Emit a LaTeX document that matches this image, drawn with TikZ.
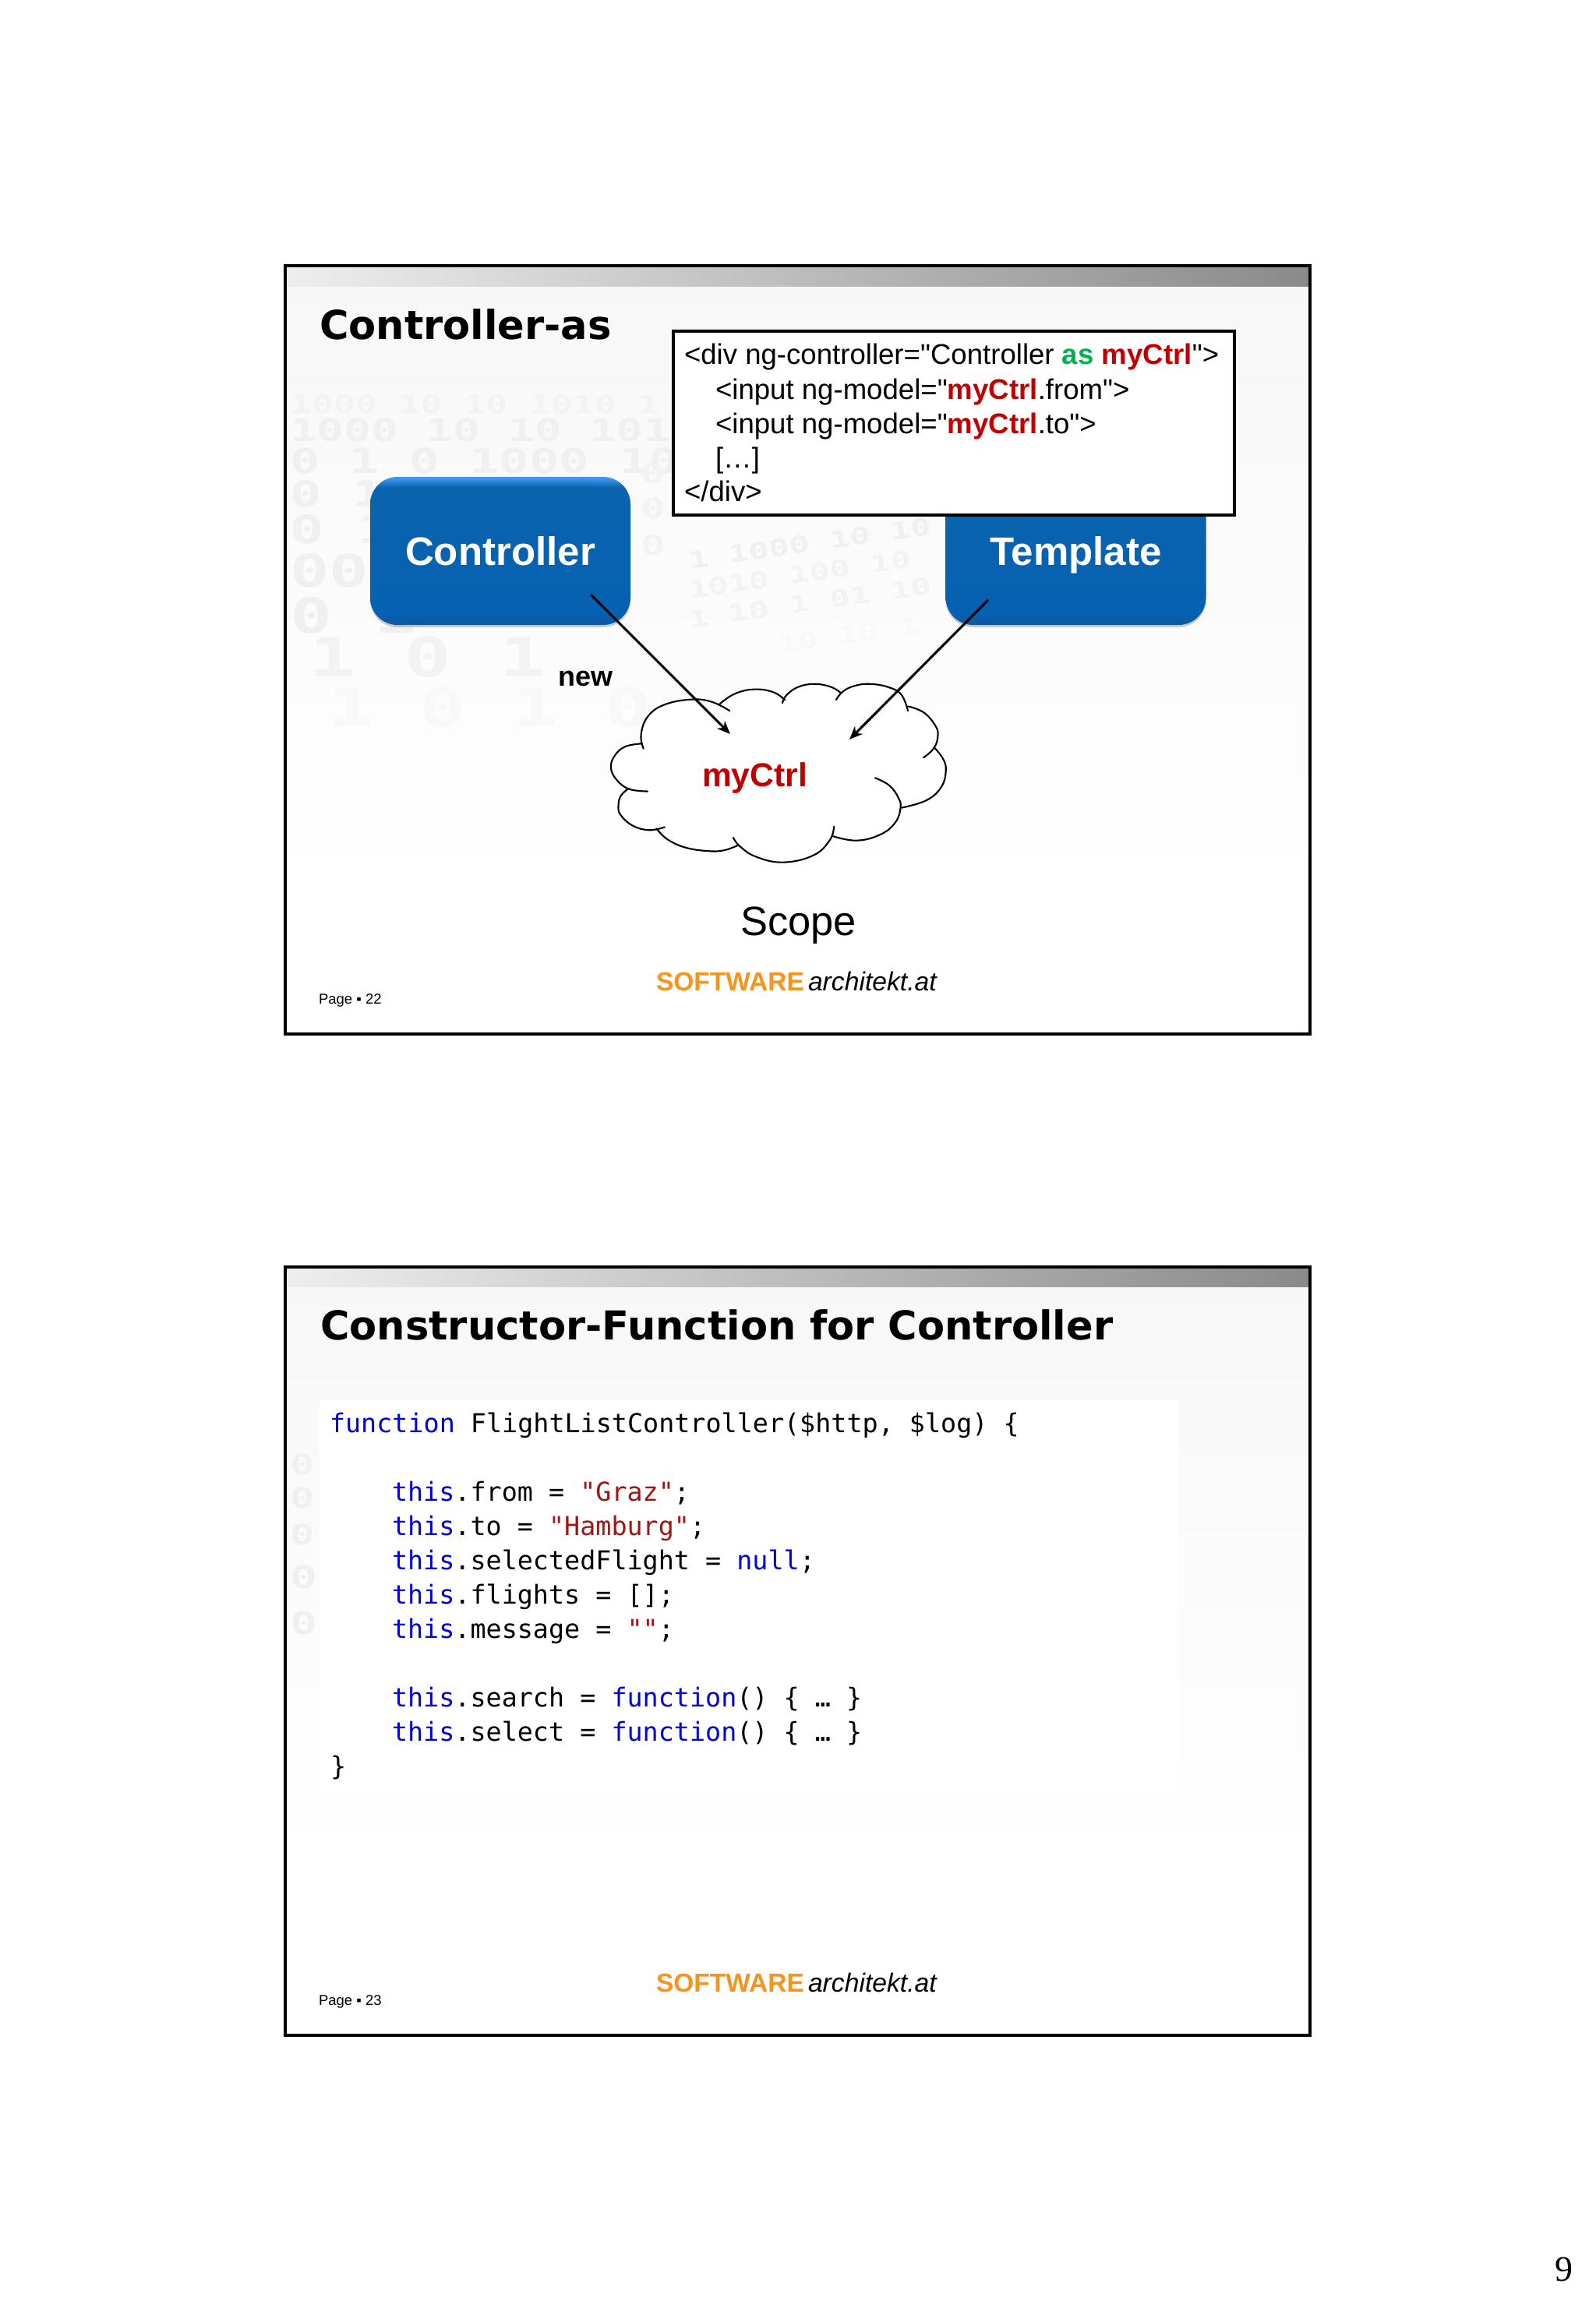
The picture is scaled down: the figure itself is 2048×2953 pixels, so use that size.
\documentclass[tikz,border=0pt]{standalone}
\usepackage{fontspec}
\setmainfont{Liberation Sans}[Ligatures=TeXOff]
\setmonofont{DejaVu Sans Mono}
\newfontfamily\titlefont{DejaVu Sans}
\newfontfamily\wmfont{DejaVu Sans Mono}
\newfontfamily\numfont{Liberation Serif}
\usetikzlibrary{arrows.meta,shadows}
\definecolor{bandL}{HTML}{EEEEEE}
\definecolor{bandR}{HTML}{8A8A8A}
\definecolor{bgTop}{HTML}{F7F7F8}
\definecolor{blueTop}{HTML}{3D98EC}
\definecolor{blueA}{HTML}{0B63AE}
\definecolor{blueB}{HTML}{0561B2}
\definecolor{blueEnd}{HTML}{0A5CA6}
\definecolor{kwGreen}{HTML}{00B050}
\definecolor{kwRed}{HTML}{C00000}
\definecolor{logoOrange}{HTML}{F7941E}
\definecolor{codeBlue}{HTML}{0000E0}
\definecolor{codeStr}{HTML}{A31515}
\definecolor{wmA}{HTML}{F0F0F1}
\definecolor{wmB}{HTML}{F3F3F4}
\definecolor{wmC}{HTML}{F8F8F8}
\pgfdeclareverticalshading{blueboxshade}{100bp}{color(0bp)=(blueEnd); color(26.5bp)=(blueEnd); color(29bp)=(blueB); color(66bp)=(blueA); color(71.5bp)=(blueA); color(74.5bp)=(blueTop); color(100bp)=(blueTop)}
\newcommand{\pxsize}[1]{\fontsize{#1}{#1}\selectfont}
\newcommand{\kwb}[1]{\textcolor{codeBlue}{#1}}
\newcommand{\kws}[1]{\textcolor{codeStr}{#1}}
\newcommand{\kred}[1]{\textcolor{kwRed}{\textbf{#1}}}
\tikzset{
  x=1pt,y=-1pt,
  label base/.style={inner sep=0pt,outer sep=0pt,anchor=base west},
  slidetitle/.style={label base,font=\titlefont\bfseries\pxsize{51.1}},
  boxline/.style={label base,font=\pxsize{36.6}},
  codeline/.style={label base,font=\ttfamily\pxsize{33.4}},
  pagelabel/.style={label base,font=\pxsize{18.5}},
  logoA/.style={label base,font=\bfseries\pxsize{33.5},text=logoOrange},
  logoB/.style={label base,font=\itshape\pxsize{33.7}},
  frameline/.style={draw=black,line width=3.5pt},
  bluebox/.style={rounded corners=35pt,minimum width=334pt,minimum height=190pt,inner sep=0pt,
    shading=blueboxshade,text=white,font=\bfseries,text height=37pt,text depth=0pt,
    drop shadow={shadow xshift=0pt,shadow yshift=-3pt,opacity=.2,fill=black}},
  arrowline/.style={draw=black,line width=3.1pt,-{Stealth[length=17pt,width=14pt]}},
  cloudline/.style={draw=black,line width=2.1pt,line cap=round},
  wm/.style={inner sep=0pt,outer sep=0pt,anchor=base west,font=\wmfont\bfseries},
}
% watermark: slide-relative rows of binary digits
\newcommand{\wmrow}[6]{\node[wm,text=#5,rotate=#4] (wm#6) at (#1) {\pxsize{#2}\scalebox{1.45}[1]{#3}};}
\newcommand{\cloudlobes}[1]{%
  \path[#1] plot[smooth,tension=.7] coordinates {(331,577)(323,530)(345,470)(400,430)(490,412)(560,420)(620,450)};
  \path[#1] plot[smooth,tension=.7] coordinates {(587,427)(635,394)(700,378)(765,387)(806,414)};
  \path[#1] plot[smooth,tension=.7] coordinates {(797,424)(810,398)(850,370)(905,360)(960,370)(993,390)};
  \path[#1] plot[smooth,tension=.7] coordinates {(977,413)(1000,385)(1040,366)(1090,360)(1150,370)(1195,395)(1218,450)};
  \path[#1] plot[smooth,tension=.7] coordinates {(1218,435)(1270,455)(1310,500)(1318,535)(1305,575)(1270,607)};
  \path[#1] plot[smooth,tension=.7] coordinates {(1305,572)(1335,610)(1345,650)(1330,705)(1280,750)(1197,775)};
  \path[#1] plot[smooth,tension=.7] coordinates {(1108,675)(1155,700)(1185,740)(1193,775)(1175,825)(1125,865)(1045,885)(965,870)};
  \path[#1] plot[smooth,tension=.7] coordinates {(970,838)(955,885)(900,935)(800,958)(710,940)(655,905)(632,875)};
  \path[#1] plot[smooth,tension=.7] coordinates {(650,900)(600,918)(545,920)(470,908)(410,880)(375,845)};
  \path[#1] plot[smooth,tension=.7] coordinates {(402,840)(350,850)(295,835)(255,800)(247,770)(255,735)(282,710)};
  \path[#1] plot[smooth,tension=.7] coordinates {(345,720)(282,712)(240,680)(222,640)(235,600)(270,570)(325,560)};
}
\begin{document}
\begin{tikzpicture}
\useasboundingbox (0,0) rectangle (2048,2953);
\fill[white] (0,0) rectangle (2048,2953);

% ---------- slide 1 ----------
\shade[top color=bgTop,bottom color=white] (366,341) rectangle (1681,1150);
\fill[white] (366,1150) rectangle (1681,1327);
\begin{scope}
  \clip (368,367) rectangle (1679,1100);
  \wmrow{372,530}{32}{1000 10 10 1010 1}{0}{wmB}{a}
  \wmrow{372,566}{40}{1000 10 10 101}{0}{wmA}{b}
  \wmrow{372,607}{44}{0 1 0 1000 10}{0}{wmA}{c}
  \wmrow{372,650}{46}{0 10}{0}{wmA}{d}
  \wmrow{372,697}{50}{0 1}{0}{wmA}{e}
  \wmrow{372,753}{58}{00}{0}{wmA}{f}
  \wmrow{372,812}{62}{0 1}{0}{wmA}{g}
  \wmrow{396,868}{70}{1 0 1}{0}{wmB}{h}
  \wmrow{420,932}{68}{1 0 1 0}{0}{wmC}{i}
  \wmrow{822,620}{36}{0}{0}{wmB}{j}
  \wmrow{822,665}{36}{0}{0}{wmB}{k}
  \wmrow{822,712}{36}{0}{0}{wmB}{l}
  \wmrow{885,730}{30}{1 1000 10 10}{8}{wmA}{m}
  \wmrow{885,768}{30}{1010 100 10}{8}{wmB}{n}
  \wmrow{885,806}{30}{1 10 1 01 10}{8}{wmB}{o}
  \wmrow{1000,838}{30}{10 10 1}{8}{wmC}{p}
\end{scope}
\shade[left color=bandL,right color=bandR] (366,341) rectangle (1681,367);
\node[slidetitle] (title1) at (410,435) {Controller-as};

\node[bluebox] (ctrl) at (642,707) {\pxsize{51}Controller};
\node[bluebox] (tmpl) at (1380.5,707) {\pxsize{51}Template};
\node[label base,font=\bfseries\pxsize{36}] (newlabel) at (716,880) {new};

\draw[draw=black,fill=white,line width=3.5pt] (864,425) rectangle (1584,661);
\node[boxline] (b1) at (878,467) {<div ng-controller="Controller \textcolor{kwGreen}{\textbf{as}} \kred{myCtrl}">};
\node[boxline] (b2) at (918,512) {<input ng-model="\kred{myCtrl}.from">};
\node[boxline] (b3) at (918,556) {<input ng-model="\kred{myCtrl}.to">};
\node[boxline] (b4) at (918,600) {[…]};
\node[boxline] (b5) at (878,643) {</div>};

\begin{scope}[shift={(699,740)},x=.3827pt,y=-.3827pt]
  \fill[white] (331,577)--(345,470)--(490,412)--(620,420)--(700,378)--(905,360)--(1090,360)--(1195,395)--(1310,500)--(1345,650)--(1280,750)--(1175,825)--(1045,885)--(800,958)--(545,920)--(350,850)--(247,770)--(222,640)--cycle;
  \cloudlobes{fill=white}
  \cloudlobes{cloudline}
\end{scope}
\node[label base,font=\bfseries\pxsize{42.6},text=kwRed] (myctrl) at (901,1009) {myCtrl};
\coordinate (ctrlOut) at (758,763);
\coordinate (cloudInA) at (937,942);
\coordinate (tmplOut) at (1268,770);
\coordinate (cloudInB) at (1090,949);
\draw[arrowline] (ctrlOut) -- (cloudInA);
\draw[arrowline] (tmplOut) -- (cloudInB);

\node[label base,font=\pxsize{52.5}] (scope1) at (950,1200) {Scope};
\node[logoA] (logo1a) at (842,1271) {SOFTWARE};
\node[logoB] (logo1b) at (1037,1271) {architekt.at};
\node[pagelabel] (page1) at (409,1288) {Page ▪ 22};
\draw[frameline] (366,341) rectangle (1681,1327);

% ---------- slide 2 ----------
\shade[top color=bgTop,bottom color=white] (366,1626) rectangle (1681,2400);
\fill[white] (366,2400) rectangle (1681,2612);
\begin{scope}
  \clip (368,1652) rectangle (410,2385);
  \wmrow{372,1892}{36}{0}{0}{wmA}{q}
  \wmrow{372,1935}{36}{0}{0}{wmA}{r}
  \wmrow{372,1982}{36}{0}{0}{wmA}{s}
  \wmrow{372,2038}{40}{0}{0}{wmA}{t}
  \wmrow{372,2097}{40}{0}{0}{wmA}{u}
\end{scope}
\shade[left color=bandL,right color=bandR] (366,1626) rectangle (1681,1651);
\node[slidetitle] (title2) at (411,1719) {Constructor-Function for Controller};
\fill[white] (410,1796) rectangle (1513,2302);
\node[codeline] (c0) at (423,1838) {\kwb{function} FlightListController(\$http, \$log) \{};
\node[codeline] (c2) at (503,1926) {\kwb{this}.from = \kws{"Graz"};};
\node[codeline] (c3) at (503,1970) {\kwb{this}.to = \kws{"Hamburg"};};
\node[codeline] (c4) at (503,2014) {\kwb{this}.selectedFlight = \kwb{null};};
\node[codeline] (c5) at (503,2058) {\kwb{this}.flights = [];};
\node[codeline] (c6) at (503,2102) {\kwb{this}.message = \kws{""};};
\node[codeline] (c8) at (503,2190) {\kwb{this}.search = \kwb{function}() \{ … \}};
\node[codeline] (c9) at (503,2234) {\kwb{this}.select = \kwb{function}() \{ … \}};
\node[codeline] (c10) at (424,2278) {\}};
\node[logoA] (logo2a) at (842,2556) {SOFTWARE};
\node[logoB] (logo2b) at (1037,2556) {architekt.at};
\node[pagelabel] (page2) at (409,2573) {Page ▪ 23};
\draw[frameline] (366,1626) rectangle (1681,2612);

\node[label base,font=\numfont\pxsize{46}] (pagenum) at (1995,2927) {9};
\end{tikzpicture}
\end{document}
